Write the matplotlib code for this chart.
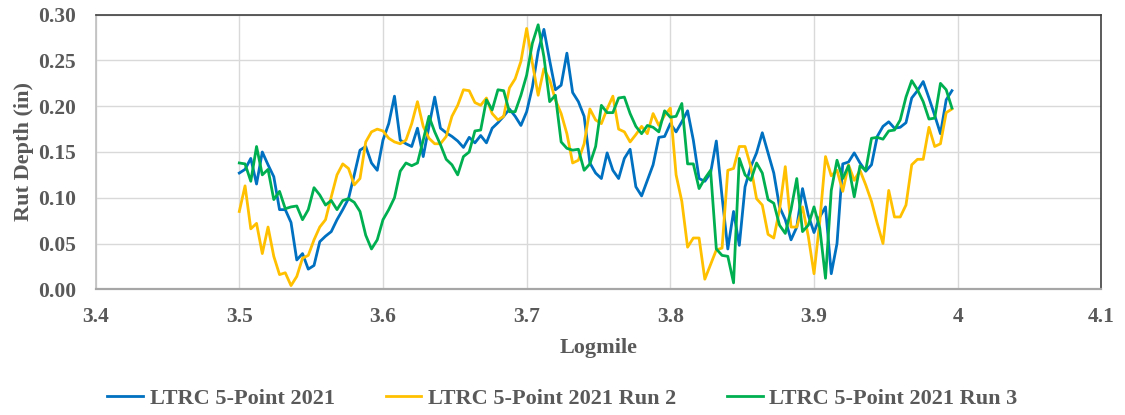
import matplotlib
matplotlib.use('Agg')
import matplotlib.pyplot as plt
import numpy as np

# logmile stations, every 0.004 mi from 3.5
logmile = [round(3.5 + 0.004 * i, 3) for i in range(125)]

# LTRC 5-Point 2021
run1 = [0.127, 0.131, 0.143, 0.115, 0.150, 0.136, 0.123, 0.087, 0.087, 0.073,
        0.032, 0.039, 0.022, 0.026, 0.052, 0.058, 0.063, 0.076, 0.087, 0.099,
        0.125, 0.152, 0.156, 0.138, 0.130, 0.163, 0.181, 0.211, 0.163, 0.159,
        0.156, 0.176, 0.145, 0.178, 0.210, 0.176, 0.171, 0.167, 0.162, 0.155,
        0.166, 0.160, 0.168, 0.160, 0.176, 0.182, 0.189, 0.197, 0.189, 0.179,
        0.194, 0.221, 0.260, 0.284, 0.250, 0.218, 0.223, 0.258, 0.215, 0.205,
        0.189, 0.138, 0.127, 0.121, 0.149, 0.130, 0.121, 0.143, 0.153, 0.112,
        0.102, 0.119, 0.136, 0.166, 0.167, 0.181, 0.172, 0.183, 0.195, 0.163,
        0.121, 0.118, 0.127, 0.162, 0.101, 0.044, 0.085, 0.048, 0.112, 0.134,
        0.149, 0.171, 0.149, 0.127, 0.090, 0.076, 0.054, 0.068, 0.110, 0.081,
        0.062, 0.079, 0.090, 0.017, 0.050, 0.137, 0.139, 0.149, 0.138, 0.129,
        0.136, 0.167, 0.178, 0.183, 0.176, 0.177, 0.182, 0.209, 0.217, 0.227,
        0.209, 0.190, 0.170, 0.207, 0.217]

# LTRC 5-Point 2021 Run 2
run2 = [0.085, 0.113, 0.066, 0.072, 0.039, 0.068, 0.036, 0.016, 0.018, 0.004,
        0.014, 0.034, 0.037, 0.054, 0.068, 0.076, 0.101, 0.125, 0.137, 0.132,
        0.114, 0.121, 0.161, 0.172, 0.175, 0.173, 0.165, 0.161, 0.159, 0.163,
        0.181, 0.205, 0.178, 0.165, 0.159, 0.159, 0.167, 0.189, 0.201, 0.218,
        0.217, 0.204, 0.201, 0.209, 0.192, 0.185, 0.189, 0.220, 0.230, 0.249,
        0.285, 0.247, 0.212, 0.241, 0.229, 0.207, 0.192, 0.170, 0.138, 0.141,
        0.159, 0.197, 0.185, 0.181, 0.197, 0.211, 0.175, 0.172, 0.161, 0.169,
        0.178, 0.170, 0.192, 0.179, 0.190, 0.198, 0.125, 0.096, 0.046, 0.056,
        0.056, 0.011, 0.027, 0.043, 0.045, 0.130, 0.132, 0.156, 0.156, 0.134,
        0.099, 0.092, 0.060, 0.056, 0.087, 0.134, 0.068, 0.068, 0.090, 0.058,
        0.017, 0.074, 0.145, 0.124, 0.130, 0.107, 0.136, 0.119, 0.130, 0.114,
        0.096, 0.072, 0.050, 0.108, 0.079, 0.079, 0.092, 0.136, 0.142, 0.142,
        0.177, 0.156, 0.159, 0.193, 0.197]

# LTRC 5-Point 2021 Run 3
run3 = [0.138, 0.137, 0.118, 0.156, 0.125, 0.131, 0.098, 0.107, 0.088, 0.090,
        0.091, 0.076, 0.087, 0.111, 0.103, 0.092, 0.097, 0.087, 0.097, 0.099,
        0.095, 0.085, 0.059, 0.044, 0.054, 0.076, 0.087, 0.100, 0.129, 0.138,
        0.135, 0.138, 0.163, 0.189, 0.172, 0.158, 0.142, 0.136, 0.125, 0.145,
        0.150, 0.173, 0.174, 0.207, 0.196, 0.218, 0.217, 0.194, 0.194, 0.212,
        0.234, 0.269, 0.289, 0.254, 0.205, 0.212, 0.161, 0.154, 0.152, 0.153,
        0.130, 0.137, 0.156, 0.201, 0.193, 0.193, 0.209, 0.210, 0.192, 0.178,
        0.170, 0.179, 0.177, 0.172, 0.195, 0.188, 0.189, 0.203, 0.137, 0.137,
        0.110, 0.121, 0.130, 0.044, 0.037, 0.036, 0.007, 0.143, 0.125, 0.119,
        0.138, 0.127, 0.098, 0.094, 0.070, 0.061, 0.087, 0.121, 0.063, 0.070,
        0.090, 0.067, 0.012, 0.108, 0.141, 0.121, 0.135, 0.101, 0.135, 0.130,
        0.165, 0.166, 0.164, 0.173, 0.174, 0.185, 0.210, 0.228, 0.218, 0.205,
        0.186, 0.187, 0.225, 0.218, 0.198]

labels = ['LTRC 5-Point 2021', 'LTRC 5-Point 2021 Run 2', 'LTRC 5-Point 2021 Run 3']
colors = ['#0070C0', '#FFC000', '#00B050']

plt.rcParams['font.family'] = ['Liberation Serif', 'DejaVu Serif']
plt.rcParams['font.weight'] = 'bold'

fig = plt.figure(figsize=(11.25, 4.15), dpi=100)
ax = fig.add_axes([0.085, 0.303, 0.894, 0.6615])

for y, lab, c in zip([run1, run2, run3], labels, colors):
    ax.plot(logmile, y, color=c, lw=2.0, label=lab)

ax.set_xlim(3.4, 4.1)
ax.set_ylim(0, 0.30)
ax.set_xticks(np.arange(3.4, 4.11, 0.1))
ax.set_xticklabels(['3.4', '3.5', '3.6', '3.7', '3.8', '3.9', '4', '4.1'])
ax.set_yticks(np.arange(0, 0.31, 0.05))
ax.set_yticklabels(['%.2f' % v for v in np.arange(0, 0.31, 0.05)])
ax.grid(True, color='#d9d9d9', lw=1.0)
ax.set_axisbelow(True)
ax.tick_params(length=0, labelsize=15.5, colors='#595959')
ax.tick_params(axis='y', pad=14)
ax.tick_params(axis='x', pad=13)

ax.spines['left'].set_color('#bfbfbf')
ax.spines['left'].set_linewidth(1.2)
ax.spines['bottom'].set_color('#a6a6a6')
ax.spines['bottom'].set_linewidth(1.6)
ax.spines['top'].set_color('#404040')
ax.spines['top'].set_linewidth(1.2)
ax.spines['right'].set_color('#404040')
ax.spines['right'].set_linewidth(1.2)

ax.set_xlabel('Logmile', fontsize=16, fontweight='bold', color='#595959', labelpad=8)
ax.set_ylabel('Rut Depth (in)', fontsize=16, fontweight='bold', color='#595959', labelpad=3)

fig.legend(loc='lower center', bbox_to_anchor=(0.5, -0.034), ncol=3, frameon=False,
           fontsize=16, handlelength=1.6, columnspacing=2.3, handletextpad=0.3,
           labelcolor='#595959')

fig.savefig('out.png', dpi=100)
